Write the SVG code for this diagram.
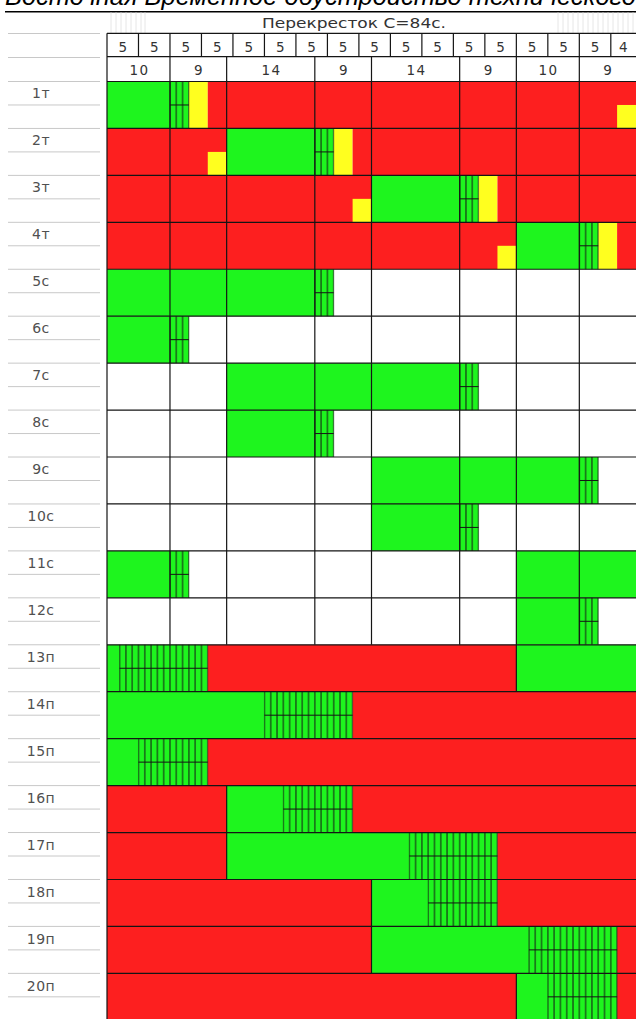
<svg xmlns="http://www.w3.org/2000/svg" width="636" height="1019" viewBox="0 0 636 1019">
<style>
.g{fill:#1ef51e}.r{fill:#fd1f1f}.y{fill:#ffff1f}.hz{fill:url(#hatch)}
.mid{stroke:#151515;stroke-width:1;fill:none}
.grid{stroke:#151515;stroke-width:1.2;fill:none}
.tr{stroke:#151515;stroke-width:1.2}
.gray{stroke:#c8c8c8;stroke-width:1;fill:none}
.faint{stroke:#e6e6e6;stroke-width:1;fill:none}
.lbl{font-family:"DejaVu Sans","Liberation Sans",sans-serif;font-size:14px;fill:#505050;text-anchor:middle;letter-spacing:0.5px}
.num{font-family:"DejaVu Sans","Liberation Sans",sans-serif;font-size:13.5px;fill:#333;text-anchor:middle}
.ph{font-family:"DejaVu Sans","Liberation Sans",sans-serif;font-size:13.5px;fill:#333;text-anchor:middle;letter-spacing:1.5px}
.hdr{font-family:"DejaVu Sans","Liberation Sans",sans-serif;font-size:14px;fill:#333}
.title{font-family:"Liberation Sans",Arial,sans-serif;font-size:25px;font-style:italic;fill:#000}
</style>
<defs>
<pattern id="hatch" patternUnits="userSpaceOnUse" x="107" y="0" width="6.29762" height="47">
<rect x="-0.5" y="0" width="1" height="47" fill="#151515"/>
<rect x="5.79762" y="0" width="1" height="47" fill="#151515"/>
</pattern>
</defs>
<rect width="636" height="1019" fill="#fff"/>
<g id="title">
<text class="title" x="5" y="5" textLength="631" lengthAdjust="spacingAndGlyphs">Восточная Временное обустройство технического</text>
<path d="M5 11.7H636" stroke="#000" stroke-width="1.6"/>
</g>
<g id="label-column">
<path class="gray" d="M8 33.5H100M8 57.5H100M8 81.5H100M8 104.97H100M8 128.44H100M8 151.91H100M8 175.38H100M8 198.85H100M8 222.32H100M8 245.79H100M8 269.26H100M8 292.73H100M8 316.2H100M8 339.67H100M8 363.14H100M8 386.61H100M8 410.08H100M8 433.55H100M8 457.02H100M8 480.49H100M8 503.96H100M8 527.43H100M8 550.9H100M8 574.37H100M8 597.84H100M8 621.31H100M8 644.78H100M8 668.25H100M8 691.72H100M8 715.19H100M8 738.66H100M8 762.13H100M8 785.6H100M8 809.07H100M8 832.54H100M8 856.01H100M8 879.48H100M8 902.95H100M8 926.42H100M8 949.89H100M8 973.36H100M8 996.83H100"/>
<path class="faint" d="M111 12.5V33M116 12.5V33M121 12.5V33M126 12.5V33M131 12.5V33M136 12.5V33M141 12.5V33M145 12.5V33M558 12.5V33M563 12.5V33M568 12.5V33M573 12.5V33M578 12.5V33M583 12.5V33M588 12.5V33M593 12.5V33M598 12.5V33M603 12.5V33M608 12.5V33M613 12.5V33M618 12.5V33M623 12.5V33M628 12.5V33M633 12.5V33"/>
</g>
<g id="header">
<text class="hdr" x="262" y="28" textLength="184" lengthAdjust="spacingAndGlyphs">Перекресток C=84c.</text>
<g id="seconds-row">
<text class="num" x="122.74" y="52">5</text><text class="num" x="154.23" y="52">5</text><text class="num" x="185.72" y="52">5</text><text class="num" x="217.2" y="52">5</text><text class="num" x="248.69" y="52">5</text><text class="num" x="280.18" y="52">5</text><text class="num" x="311.67" y="52">5</text><text class="num" x="343.16" y="52">5</text><text class="num" x="374.65" y="52">5</text><text class="num" x="406.14" y="52">5</text><text class="num" x="437.62" y="52">5</text><text class="num" x="469.11" y="52">5</text><text class="num" x="500.6" y="52">5</text><text class="num" x="532.09" y="52">5</text><text class="num" x="563.58" y="52">5</text><text class="num" x="595.06" y="52">5</text><text class="num" x="623.4" y="52">4</text>
</g>
<g id="phase-row">
<text class="ph" x="139.5" y="75">10</text><text class="ph" x="199" y="75">9</text><text class="ph" x="271.5" y="75">14</text><text class="ph" x="344" y="75">9</text><text class="ph" x="416.5" y="75">14</text><text class="ph" x="488.8" y="75">9</text><text class="ph" x="548.6" y="75">10</text><text class="ph" x="608.4" y="75">9</text>
</g>
</g>
<g id="row-1t">
<rect class="g" x="107" y="81.5" width="81.87" height="46.94"/>
<rect class="y" x="188.87" y="81.5" width="18.89" height="46.94"/>
<rect class="r" x="207.76" y="81.5" width="428.24" height="46.94"/>
<rect class="y" x="617.1" y="104.97" width="18.9" height="23.47"/>
<rect class="hz" x="169.38" y="81.5" width="20.09" height="46.94"/>
<path class="mid" d="M169.98 104.97H188.87"/>
<text class="lbl" x="41" y="98">1т</text>
</g>
<g id="row-2t">
<rect class="r" x="107" y="128.44" width="119.65" height="46.94"/>
<rect class="y" x="207.76" y="151.91" width="18.89" height="23.47"/>
<rect class="g" x="226.65" y="128.44" width="107.06" height="46.94"/>
<rect class="y" x="333.71" y="128.44" width="18.9" height="46.94"/>
<rect class="r" x="352.61" y="128.44" width="283.39" height="46.94"/>
<rect class="hz" x="314.22" y="128.44" width="20.09" height="46.94"/>
<path class="mid" d="M314.82 151.91H333.71"/>
<text class="lbl" x="41" y="145">2т</text>
</g>
<g id="row-3t">
<rect class="r" x="107" y="175.38" width="264.5" height="46.94"/>
<rect class="y" x="352.61" y="198.85" width="18.89" height="23.47"/>
<rect class="g" x="371.5" y="175.38" width="107.06" height="46.94"/>
<rect class="y" x="478.56" y="175.38" width="18.89" height="46.94"/>
<rect class="r" x="497.45" y="175.38" width="138.55" height="46.94"/>
<rect class="hz" x="459.07" y="175.38" width="20.09" height="46.94"/>
<path class="mid" d="M459.67 198.85H478.56"/>
<text class="lbl" x="41" y="192">3т</text>
</g>
<g id="row-4t">
<rect class="r" x="107" y="222.32" width="409.35" height="46.94"/>
<rect class="y" x="497.45" y="245.79" width="18.9" height="23.47"/>
<rect class="g" x="516.35" y="222.32" width="81.86" height="46.94"/>
<rect class="y" x="598.21" y="222.32" width="18.89" height="46.94"/>
<rect class="r" x="617.1" y="222.32" width="18.9" height="46.94"/>
<rect class="hz" x="578.72" y="222.32" width="20.09" height="46.94"/>
<path class="mid" d="M579.32 245.79H598.21"/>
<text class="lbl" x="41" y="239">4т</text>
</g>
<g id="row-5c">
<rect class="g" x="107" y="269.26" width="226.71" height="46.94"/>
<rect class="hz" x="314.22" y="269.26" width="20.09" height="46.94"/>
<path class="mid" d="M314.82 292.73H333.71"/>
<text class="lbl" x="41" y="286">5с</text>
</g>
<g id="row-6c">
<rect class="g" x="107" y="316.2" width="81.87" height="46.94"/>
<rect class="hz" x="169.38" y="316.2" width="20.09" height="46.94"/>
<path class="mid" d="M169.98 339.67H188.87"/>
<text class="lbl" x="41" y="333">6с</text>
</g>
<g id="row-7c">
<rect class="g" x="226.65" y="363.14" width="251.91" height="46.94"/>
<rect class="hz" x="459.07" y="363.14" width="20.09" height="46.94"/>
<path class="mid" d="M459.67 386.61H478.56"/>
<text class="lbl" x="41" y="380">7с</text>
</g>
<g id="row-8c">
<rect class="g" x="226.65" y="410.08" width="107.06" height="46.94"/>
<rect class="hz" x="314.22" y="410.08" width="20.09" height="46.94"/>
<path class="mid" d="M314.82 433.55H333.71"/>
<text class="lbl" x="41" y="427">8с</text>
</g>
<g id="row-9c">
<rect class="g" x="371.5" y="457.02" width="226.71" height="46.94"/>
<rect class="hz" x="578.72" y="457.02" width="20.09" height="46.94"/>
<path class="mid" d="M579.32 480.49H598.21"/>
<text class="lbl" x="41" y="474">9с</text>
</g>
<g id="row-10c">
<rect class="g" x="371.5" y="503.96" width="107.06" height="46.94"/>
<rect class="hz" x="459.07" y="503.96" width="20.09" height="46.94"/>
<path class="mid" d="M459.67 527.43H478.56"/>
<text class="lbl" x="41" y="521">10с</text>
</g>
<g id="row-11c">
<rect class="g" x="107" y="550.9" width="81.87" height="46.94"/>
<rect class="g" x="516.35" y="550.9" width="119.65" height="46.94"/>
<rect class="hz" x="169.38" y="550.9" width="20.09" height="46.94"/>
<path class="mid" d="M169.98 574.37H188.87"/>
<text class="lbl" x="41" y="568">11с</text>
</g>
<g id="row-12c">
<rect class="g" x="516.35" y="597.84" width="81.86" height="46.94"/>
<rect class="hz" x="578.72" y="597.84" width="20.09" height="46.94"/>
<path class="mid" d="M579.32 621.31H598.21"/>
<text class="lbl" x="41" y="615">12с</text>
</g>
<g id="row-13p">
<rect class="g" x="107" y="644.78" width="100.76" height="46.94"/>
<rect class="r" x="207.76" y="644.78" width="308.59" height="46.94"/>
<rect class="g" x="516.35" y="644.78" width="119.65" height="46.94"/>
<rect class="hz" x="119" y="644.78" width="89.36" height="46.94"/>
<path class="mid" d="M119.6 668.25H207.76"/>
<path class="tr" d="M516.35 644.78V691.72"/>
<text class="lbl" x="41" y="662">13п</text>
</g>
<g id="row-14p">
<rect class="g" x="107" y="691.72" width="245.61" height="46.94"/>
<rect class="r" x="352.61" y="691.72" width="283.39" height="46.94"/>
<rect class="hz" x="263.84" y="691.72" width="89.37" height="46.94"/>
<path class="mid" d="M264.44 715.19H352.61"/>
<text class="lbl" x="41" y="709">14п</text>
</g>
<g id="row-15p">
<rect class="g" x="107" y="738.66" width="100.76" height="46.94"/>
<rect class="r" x="207.76" y="738.66" width="428.24" height="46.94"/>
<rect class="hz" x="137.89" y="738.66" width="70.47" height="46.94"/>
<path class="mid" d="M138.49 762.13H207.76"/>
<text class="lbl" x="41" y="756">15п</text>
</g>
<g id="row-16p">
<rect class="r" x="107" y="785.6" width="119.65" height="46.94"/>
<rect class="g" x="226.65" y="785.6" width="125.96" height="46.94"/>
<rect class="r" x="352.61" y="785.6" width="283.39" height="46.94"/>
<rect class="hz" x="282.73" y="785.6" width="70.48" height="46.94"/>
<path class="mid" d="M283.33 809.07H352.61"/>
<path class="tr" d="M226.65 785.6V832.54"/>
<text class="lbl" x="41" y="803">16п</text>
</g>
<g id="row-17p">
<rect class="r" x="107" y="832.54" width="119.65" height="46.94"/>
<rect class="g" x="226.65" y="832.54" width="270.8" height="46.94"/>
<rect class="r" x="497.45" y="832.54" width="138.55" height="46.94"/>
<rect class="hz" x="408.69" y="832.54" width="89.36" height="46.94"/>
<path class="mid" d="M409.29 856.01H497.45"/>
<path class="tr" d="M226.65 832.54V879.48"/>
<text class="lbl" x="41" y="850">17п</text>
</g>
<g id="row-18p">
<rect class="r" x="107" y="879.48" width="264.5" height="46.94"/>
<rect class="g" x="371.5" y="879.48" width="125.95" height="46.94"/>
<rect class="r" x="497.45" y="879.48" width="138.55" height="46.94"/>
<rect class="hz" x="427.58" y="879.48" width="70.47" height="46.94"/>
<path class="mid" d="M428.18 902.95H497.45"/>
<path class="tr" d="M371.5 879.48V926.42"/>
<text class="lbl" x="41" y="897">18п</text>
</g>
<g id="row-19p">
<rect class="r" x="107" y="926.42" width="264.5" height="46.94"/>
<rect class="g" x="371.5" y="926.42" width="245.6" height="46.94"/>
<rect class="r" x="617.1" y="926.42" width="18.9" height="46.94"/>
<rect class="hz" x="528.34" y="926.42" width="89.36" height="46.94"/>
<path class="mid" d="M528.94 949.89H617.1"/>
<path class="tr" d="M371.5 926.42V973.36"/>
<text class="lbl" x="41" y="944">19п</text>
</g>
<g id="row-20p">
<rect class="r" x="107" y="973.36" width="409.35" height="46.94"/>
<rect class="g" x="516.35" y="973.36" width="100.75" height="46.94"/>
<rect class="r" x="617.1" y="973.36" width="18.9" height="46.94"/>
<rect class="hz" x="547.23" y="973.36" width="70.47" height="46.94"/>
<path class="mid" d="M547.83 996.83H617.1"/>
<path class="tr" d="M516.35 973.36V1019"/>
<text class="lbl" x="41" y="991">20п</text>
</g>
<g id="connectors">
<path class="grid" d="M107 33.3H636M107 56.7H636M107 81.5H636M107 128.44H636M107 175.38H636M107 222.32H636M107 269.26H636M107 316.2H636M107 363.14H636M107 410.08H636M107 457.02H636M107 503.96H636M107 550.9H636M107 597.84H636M107 644.78H636M107 691.72H636M107 738.66H636M107 785.6H636M107 832.54H636M107 879.48H636M107 926.42H636M107 973.36H636"/>
<path class="grid" d="M107 33.3V1019M138.49 33.3V56.7M169.98 33.3V56.7M201.46 33.3V56.7M232.95 33.3V56.7M264.44 33.3V56.7M295.93 33.3V56.7M327.42 33.3V56.7M358.9 33.3V56.7M390.39 33.3V56.7M421.88 33.3V56.7M453.37 33.3V56.7M484.86 33.3V56.7M516.35 33.3V56.7M547.83 33.3V56.7M579.32 33.3V56.7M610.81 33.3V56.7"/>
<path class="grid" d="M169.98 56.7V644.78M226.65 56.7V644.78M314.82 56.7V644.78M371.5 56.7V644.78M459.67 56.7V644.78M516.35 56.7V644.78M579.32 56.7V644.78"/>
</g>
</svg>
